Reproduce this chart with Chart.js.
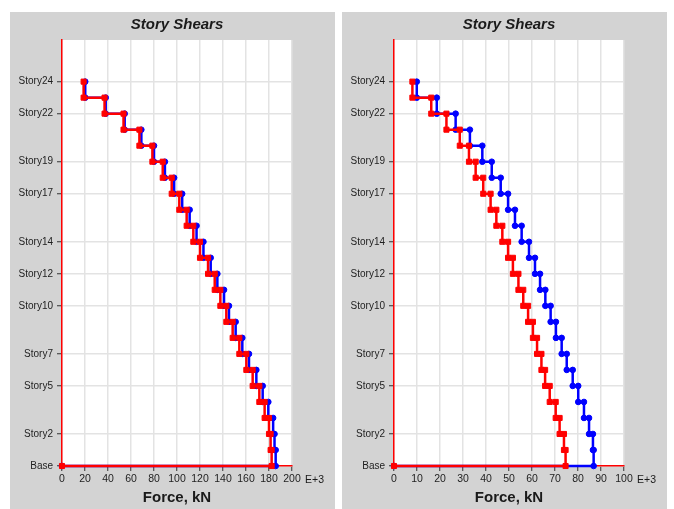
<!DOCTYPE html>
<html>
<head>
<meta charset="utf-8">
<script src="https://cdn.jsdelivr.net/npm/chart.js@4.4.0/dist/chart.umd.min.js"></script>
<style>
	body { margin: 0; background: #fff; width: 674px; height: 509px; position: relative; overflow: hidden; }
	.panel { position: absolute; top: 12px; width: 325px; height: 497px; background: #d3d3d3; }
	#p1 { left: 10px; }
	#p2 { left: 342px; }
</style>
</head>
<body>
<div class="panel" id="p1"><canvas id="chart1" width="325" height="497"></canvas></div>
<div class="panel" id="p2"><canvas id="chart2" width="325" height="497"></canvas></div>
<script>
// story levels shown on the axis
var storyTickValues = [0, 2, 5, 7, 10, 12, 14, 17, 19, 22, 24];
var storyTickLabels = ['Base', 'Story2', 'Story5', 'Story7', 'Story10', 'Story12', 'Story14', 'Story17', 'Story19', 'Story22', 'Story24'];

// shears per story, Story24 down to Story1 (E+3 kN)
var leftRed = [18.8, 37, 53.5, 67.3, 78.6, 87.6, 95.4, 102, 108.4, 114.2, 120, 127, 132.8, 137.7, 142.9, 148.4, 154.2, 160.3, 165.8, 171.6, 176.2, 180, 181.4, 182.3];
var leftBlue = [20.2, 38, 54.5, 69, 80, 89.5, 97.5, 104.5, 111, 117, 123, 129.3, 135.1, 140.9, 145.2, 151, 156.8, 162.6, 169, 174.5, 179.4, 183.6, 184.8, 185.8];
var rightRed = [8.0, 16.2, 22.8, 28.6, 32.6, 35.5, 38.8, 42.0, 44.5, 47.1, 49.6, 51.7, 54.1, 56.2, 58.3, 60.4, 62.2, 64.1, 65.7, 67.7, 70.3, 72.0, 73.9, 74.6];
var rightBlue = [9.9, 18.6, 26.8, 33.0, 38.4, 42.5, 46.4, 49.6, 52.6, 55.5, 58.7, 61.3, 63.5, 65.8, 68.1, 70.4, 72.9, 75.1, 77.7, 80.1, 82.6, 84.8, 86.5, 86.8];

var topStory = 24;

Chart.defaults.font.family = "'Liberation Sans', Arial, sans-serif";
Chart.defaults.color = '#1e1e1e';

// turn shear per story into step points (vertical over the story, horizontal at the floor)
function stepPoints(vals) {
	var pts = [];
	for (var i = 0; i < vals.length; i++) {
		var lvl = topStory - i;
		pts.push({ x: vals[i], y: lvl });
		pts.push({ x: vals[i], y: lvl - 1 });
	}
	pts.push({ x: 0, y: 0 });
	return pts;
}

var panelText = {
	id: 'panelText',
	beforeDraw: function(chart) {
		var a = chart.chartArea;
		var ctx = chart.ctx;
		ctx.save();
		ctx.fillStyle = '#fff';
		ctx.fillRect(a.left, a.top, a.right - a.left, a.bottom - a.top);
		ctx.restore();
	},
	afterDraw: function(chart) {
		var a = chart.chartArea;
		var ctx = chart.ctx;
		var cx = (a.left + a.right) / 2;
		ctx.save();
		ctx.fillStyle = '#1a1a1a';
		ctx.textAlign = 'center';
		ctx.textBaseline = 'middle';
		ctx.font = "italic bold 15px 'Liberation Sans', Arial";
		ctx.fillText('Story Shears', cx, 13);
		ctx.font = "bold 15px 'Liberation Sans', Arial";
		ctx.fillText('Force, kN', cx, 486);
		ctx.font = "10.5px 'Liberation Sans', Arial";
		ctx.textAlign = 'left';
		ctx.fillText('E+3', a.right + 13, 468);
		ctx.restore();
	}
};

function makeChart(id, redVals, blueVals, xMax, xStep) {
	var ctx = document.getElementById(id);
	return new Chart(ctx, {
		type: 'scatter',
		data: {
			datasets: [{
				data: stepPoints(redVals),
				showLine: true,
				clip: false,
				borderColor: '#ff0000',
				backgroundColor: '#ff0000',
				borderWidth: 2.5,
				pointStyle: 'rect',
				pointRadius: 3.6,
				pointBorderWidth: 1,
				tension: 0
			}, {
				data: stepPoints(blueVals),
				showLine: true,
				clip: false,
				borderColor: '#0000ff',
				backgroundColor: '#0000ff',
				borderWidth: 2.5,
				pointStyle: 'circle',
				pointRadius: 2.8,
				pointBorderWidth: 1,
				tension: 0
			}]
		},
		options: {
			responsive: false,
			animation: false,
			layout: { padding: { top: 28, right: 43, left: 0, bottom: 0 } },
			plugins: {
				legend: { display: false },
				tooltip: { enabled: false }
			},
			scales: {
				x: {
					type: 'linear',
					min: 0,
					max: xMax,
					afterFit: function(scale) { scale.height = 43; },
					ticks: { stepSize: xStep, font: { size: 10.5 }, padding: 2, maxRotation: 0 },
					grid: { color: '#e3e3e3', lineWidth: 1.5, tickColor: '#333', tickLength: 5, tickWidth: 1 },
					border: { color: '#ff0000', width: 1.5 }
				},
				y: {
					type: 'linear',
					min: 0,
					max: 26.6,
					afterFit: function(scale) { scale.width = 52; },
					afterBuildTicks: function(scale) {
						scale.ticks = storyTickValues.map(function(v) { return { value: v }; });
					},
					ticks: {
						autoSkip: false,
						font: { size: 10 },
						padding: 4,
						callback: function(value) {
							var i = storyTickValues.indexOf(value);
							return i >= 0 ? storyTickLabels[i] : '';
						}
					},
					grid: { color: '#e3e3e3', lineWidth: 1.5, tickColor: '#333', tickLength: 5, tickWidth: 1 },
					border: { color: '#ff0000', width: 1.5 }
				}
			}
		},
		plugins: [panelText]
	});
}

makeChart('chart1', leftRed, leftBlue, 200, 20);
makeChart('chart2', rightRed, rightBlue, 100, 10);
</script>
</body>
</html>
